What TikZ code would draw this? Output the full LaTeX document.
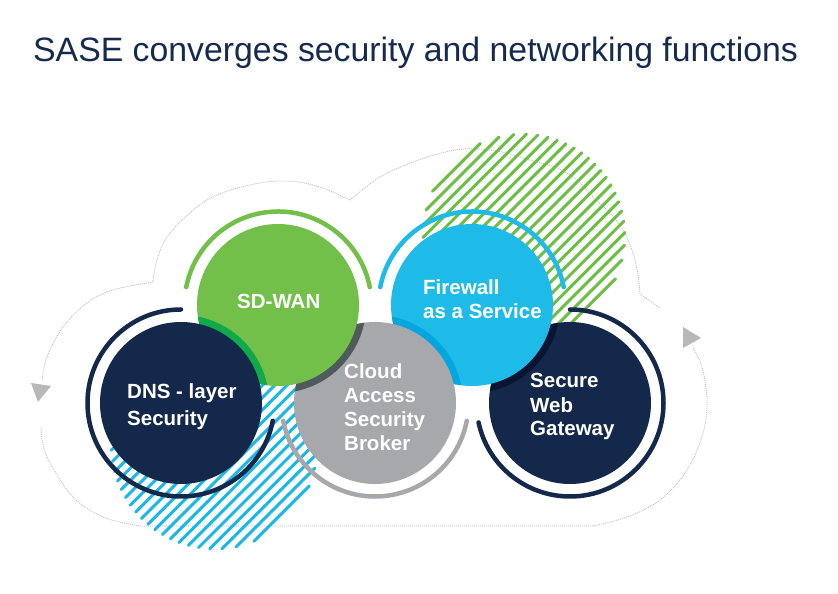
\documentclass[tikz,border=0pt]{standalone}
\usepackage{fontspec}
\setmainfont{Liberation Sans}
\definecolor{titlenavy}{HTML}{142A4E}
\definecolor{navy}{HTML}{14284B}
\definecolor{navydark}{HTML}{0B1531}
\definecolor{sdgreen}{HTML}{72BF4A}
\definecolor{greendark}{HTML}{10AA4B}
\definecolor{casbgray}{HTML}{A7A8AC}
\definecolor{graydark}{HTML}{4F5A5C}
\definecolor{fwblue}{HTML}{1EBBE9}
\definecolor{bluedark}{HTML}{03A6DF}
\definecolor{hatchgreen}{HTML}{6DBE45}
\definecolor{hatchblue}{HTML}{1AB8E8}
\definecolor{outlinegray}{HTML}{BDBDBD}
\definecolor{arrowgray}{HTML}{B8B8B8}
\newcommand\hatchdisk[4]{%
  \foreach \k in {-11,...,11}{%
    \pgfmathsetmacro\s{\k*8.7}%
    \pgfmathsetmacro\h{sqrt(max(#3*#3-\s*\s,1))-1.5}%
    \draw[#4, line width=3pt, line cap=round]
      ({#1-0.7071*\s-0.7071*\h},{#2+0.7071*\s-0.7071*\h}) --
      ({#1-0.7071*\s+0.7071*\h},{#2+0.7071*\s+0.7071*\h});
  }}
\begin{document}
\begin{tikzpicture}[x=1pt,y=1pt,
  disk/.style={circle, minimum size=162pt, inner sep=0pt, draw=none},
  ring/.style={line width=4.5pt, line cap=round},
  ctext/.style={anchor=base west, inner sep=0pt, text=white, font=\bfseries\fontsize{20.5}{24}\selectfont},
  outline/.style={draw=outlinegray, line width=0.8pt, dash pattern=on 1pt off 1pt}]
\useasboundingbox (0,0) rectangle (838,594);
\fill[white] (0,0) rectangle (838,594);

% title
\node[anchor=base west, inner sep=0pt, text=titlenavy, font=\fontsize{33.8}{40}\selectfont] (title) at (33,532.5) {SASE converges security and networking functions};

% cloud outline (two arrowed halves)
\draw[outline] (660,286) -- (640,300)
  plot[smooth, tension=0.6] coordinates {(640,300) (638,319) (633,341) (623,364) (610,381) (593,397) (577,414) (557,426) (530,434) (497,443) (463,445) (430,438) (413,432) (380,417) (350,394)}
  plot[smooth, tension=0.6] coordinates {(350,394) (320,407) (287,413) (250,409) (207,394) (170,361) (157,334) (153,312)}
  plot[smooth, tension=0.6] coordinates {(153,312) (113,304) (87,291) (63,267) (47,237) (42,214)};
\draw[outline]
  plot[smooth, tension=0.6] coordinates {(41,166) (43,150) (50,131) (73,97) (103,77) (140,68)}
  -- (593,68)
  plot[smooth, tension=0.6] coordinates {(593,68) (627,77) (660,94) (687,124) (703,161) (707,194) (702,227) (693,246)};
\fill[arrowgray] (31,211) -- (51,208) -- (38,192) -- cycle;
\fill[arrowgray] (683,267) -- (683,246) -- (701,256) -- cycle;

% hatching
\hatchdisk{524}{359}{102}{hatchgreen}
\hatchdisk{214}{148}{104}{hatchblue}

% circle positions
\coordinate (cdns) at (181,191);
\coordinate (csd) at (278,289);
\coordinate (ccasb) at (375,191);
\coordinate (cfw) at (472,289);
\coordinate (cswg) at (570,191);

% rings
\draw[ring, navy] (cdns) ++(90:93.5) arc[start angle=90, end angle=349, radius=93.5];
\draw[ring, sdgreen] (csd) ++(11:93.5) arc[start angle=11, end angle=169, radius=93.5];
\draw[ring, casbgray] (ccasb) ++(191:93.5) arc[start angle=191, end angle=349, radius=93.5];
\draw[ring, fwblue] (cfw) ++(11:93.5) arc[start angle=11, end angle=169, radius=93.5];
\draw[ring, navy] (cswg) ++(90:93.5) arc[start angle=90, end angle=-168, radius=93.5];

% circles, bottom to top, with shaded overlap bands
\node[disk, fill=navy] (swg) at (cswg) {};
\begin{scope}
  \clip (cswg) circle[radius=81];
  \fill[navydark] (cfw) circle[radius=88];
\end{scope}
\node[disk, fill=fwblue] (fw) at (cfw) {};
\begin{scope}
  \clip (cfw) circle[radius=81];
  \fill[bluedark] (ccasb) circle[radius=88];
\end{scope}
\node[disk, fill=casbgray] (casb) at (ccasb) {};
\begin{scope}
  \clip (ccasb) circle[radius=81];
  \fill[graydark] (csd) circle[radius=88];
\end{scope}
\node[disk, fill=sdgreen] (sdwan) at (csd) {};
\begin{scope}
  \clip (csd) circle[radius=81];
  \fill[greendark] (cdns) circle[radius=88];
\end{scope}
\node[disk, fill=navy] (dns) at (cdns) {};

% labels
\node[ctext] (dns1) at (127,195) {DNS - layer};
\node[ctext] (dns2) at (127,168) {Security};
\node[ctext] (sd1) at (237,285) {SD-WAN};
\node[ctext] (casb1) at (344,215) {Cloud};
\node[ctext] (casb2) at (344,191) {Access};
\node[ctext] (casb3) at (344,167) {Security};
\node[ctext] (casb4) at (344,143) {Broker};
\node[ctext] (fw1) at (423,299) {Firewall};
\node[ctext] (fw2) at (423,275) {as a Service};
\node[ctext] (swg1) at (530,206) {Secure};
\node[ctext] (swg2) at (530,181) {Web};
\node[ctext] (swg3) at (530,158) {Gateway};
\end{tikzpicture}
\end{document}
